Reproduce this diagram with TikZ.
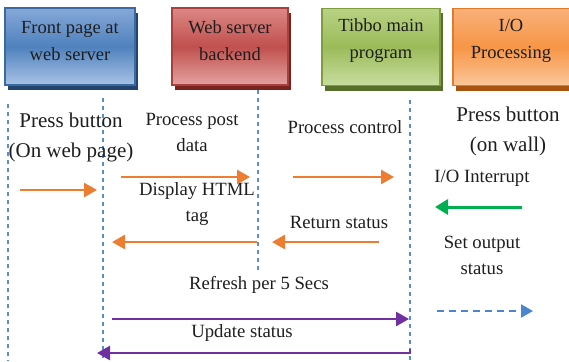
\documentclass[tikz,border=0pt]{standalone}
\usepackage{fontspec}
\setmainfont{Liberation Serif}[Ligatures=TeX]
\newfontfamily\tnr{Liberation Serif}
\usetikzlibrary{arrows.meta,shadows}
\definecolor{txt}{HTML}{1E1E1E}
\definecolor{bluetop}{HTML}{86A8D8}
\definecolor{bluemid}{HTML}{4F81BD}
\definecolor{bluebot}{HTML}{A9C3E6}
\definecolor{blueborder}{HTML}{3B6AA0}
\definecolor{blueshadow}{HTML}{22446E}
\definecolor{redtop}{HTML}{DC8886}
\definecolor{redmid}{HTML}{C0504D}
\definecolor{redbot}{HTML}{E4A2A0}
\definecolor{redborder}{HTML}{A8403D}
\definecolor{redshadow}{HTML}{7A2220}
\definecolor{greentop}{HTML}{B8D283}
\definecolor{greenmid}{HTML}{9BBB59}
\definecolor{greenbot}{HTML}{C8DDA0}
\definecolor{greenborder}{HTML}{7F9C41}
\definecolor{greenshadow}{HTML}{56702C}
\definecolor{orangetop}{HTML}{F9B079}
\definecolor{orangemid}{HTML}{F79646}
\definecolor{orangebot}{HTML}{FBC69A}
\definecolor{orangeborder}{HTML}{E07B2A}
\definecolor{orangeshadow}{HTML}{A85410}
\definecolor{lifeline}{HTML}{5B8ED0}
\definecolor{arrorange}{HTML}{ED7D31}
\definecolor{arrgreen}{HTML}{00B050}
\definecolor{arrpurple}{HTML}{7030A0}
\definecolor{arrblue}{HTML}{4A86CF}
\begin{document}
\begin{tikzpicture}[x=1pt,y=-1pt,
  boxbase/.style={line width=1.5pt, minimum height=77pt, inner sep=0pt},
  bluebox/.style={boxbase, draw=blueborder, top color=bluetop, bottom color=bluebot, middle color=bluemid,
    drop shadow={shadow xshift=3pt, shadow yshift=-5pt, fill=blueshadow, opacity=1}},
  redbox/.style={boxbase, draw=redborder, top color=redtop, bottom color=redbot, middle color=redmid,
    drop shadow={shadow xshift=3pt, shadow yshift=-5pt, fill=redshadow, opacity=1}},
  greenbox/.style={boxbase, draw=greenborder, top color=greentop, bottom color=greenbot, middle color=greenmid,
    drop shadow={shadow xshift=3pt, shadow yshift=-5pt, fill=greenshadow, opacity=1}},
  orangebox/.style={boxbase, draw=orangeborder, top color=orangetop, bottom color=orangebot, middle color=orangemid,
    drop shadow={shadow xshift=3pt, shadow yshift=-5pt, fill=orangeshadow, opacity=1}},
  boxtext/.style={text=txt, align=center, inner sep=0pt, font=\tnr\fontsize{18.5}{27}\selectfont},
  lbl/.style={text=txt, align=center, inner sep=0pt, font=\tnr\fontsize{18.7}{26}\selectfont},
  biglbl/.style={text=txt, align=center, inner sep=0pt, font=\tnr\fontsize{21}{30}\selectfont},
  lifel/.style={draw=lifeline, line width=1.2pt, dash pattern=on 4pt off 4pt},
  orangearr/.style={draw=arrorange, line width=2.5pt, -{Triangle[length=13pt,width=14pt]}},
  greenarr/.style={draw=arrgreen, line width=3pt, -{Triangle[length=13pt,width=15pt]}},
  purplearr/.style={draw=arrpurple, line width=2.5pt, -{Triangle[length=13pt,width=14pt]}},
  bluedash/.style={draw=arrblue, line width=2pt, dash pattern=on 7pt off 5pt, -{Triangle[length=12pt,width=13pt]}}
]
\useasboundingbox (0,0) rectangle (569,361);
\fill[white] (0,0) rectangle (569,361);

% boxes
\node[bluebox, minimum width=130pt] (fp) at (70,46.5) {};
\node[redbox, minimum width=116pt] (ws) at (230,46.5) {};
\node[greenbox, minimum width=118pt] (tb) at (381,47) {};
\node[orangebox, minimum width=124pt] (io) at (515,47) {};
\node[boxtext] (fpt) at (70,41) {Front page at\\web server};
\node[boxtext] (wst) at (230,40.5) {Web server\\backend};
\node[boxtext] (tbt) at (381,41) {Tibbo main\\program};
\node[boxtext] (iot) at (511,41) {I/O\\Processing};

% lifelines
\coordinate (l1a) at (8,104);   \coordinate (l1b) at (8,361);
\coordinate (l2a) at (103,98);  \coordinate (l2b) at (103,361);
\coordinate (l3a) at (258,90);  \coordinate (l3b) at (258,273);
\coordinate (l4a) at (410,100); \coordinate (l4b) at (410,361);
\draw[lifel] (l1a) -- (l1b);
\draw[lifel] (l2a) -- (l2b);
\draw[lifel] (l3a) -- (l3b);
\draw[lifel] (l4a) -- (l4b);

% labels
\node[biglbl] (pb1) at (71,137) {Press button\\(On web page)};
\node[lbl] (ppd) at (192,132) {Process post\\data};
\node[lbl] (pc) at (345,127) {Process control};
\node[biglbl] (pb2) at (508,131) {Press button\\(on wall)};
\node[lbl] (ioi) at (482,178) {I/O Interrupt};
\node[lbl] (dht) at (197,204) {Display HTML\\tag};
\node[lbl] (rs) at (339,222) {Return status};
\node[lbl] (sos) at (482,255) {Set output\\status};
\node[lbl] (rf) at (259,285) {Refresh per 5 Secs};
\node[lbl] (us) at (242,333) {Update status};

% arrows
\coordinate (a1s) at (20,190);  \coordinate (a1e) at (97,190);
\coordinate (a2s) at (121,177); \coordinate (a2e) at (250,177);
\coordinate (a3s) at (293,177); \coordinate (a3e) at (394,177);
\coordinate (a4s) at (522,207); \coordinate (a4e) at (435,207);
\coordinate (a5s) at (257,242); \coordinate (a5e) at (112,242);
\coordinate (a6s) at (379,242); \coordinate (a6e) at (272,242);
\coordinate (a7s) at (437,311); \coordinate (a7e) at (533,311);
\coordinate (a8s) at (112,319); \coordinate (a8e) at (409,319);
\coordinate (a9s) at (410,349); \coordinate (a9e) at (97,353);
\draw[orangearr] (a1s) -- (a1e);
\draw[orangearr] (a2s) -- (a2e);
\draw[orangearr] (a3s) -- (a3e);
\draw[greenarr] (a4s) -- (a4e);
\draw[orangearr] (a5s) -- (a5e);
\draw[orangearr] (a6s) -- (a6e);
\draw[bluedash] (a7s) -- (a7e);
\draw[purplearr] (a8s) -- (a8e);
\draw[purplearr] (a9s) |- (a9e);
\end{tikzpicture}
\end{document}
